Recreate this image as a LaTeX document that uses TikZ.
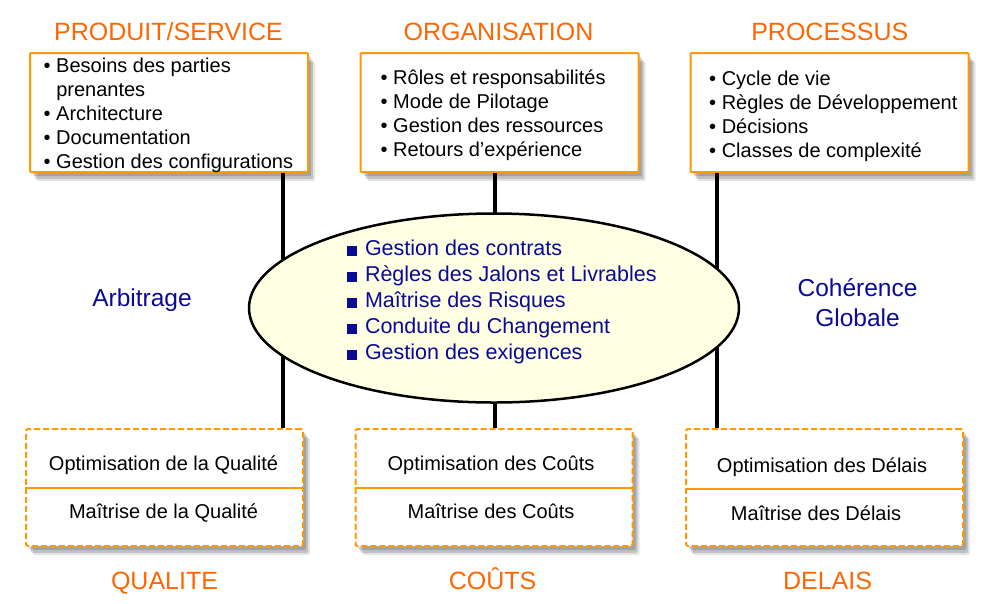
\documentclass[tikz,border=0pt]{standalone}
\usepackage{fontspec}
\setmainfont{Liberation Sans}
\usetikzlibrary{positioning,shapes.geometric,shadows}
\definecolor{titleorange}{RGB}{255,102,0}
\definecolor{boxorange}{RGB}{255,153,0}
\definecolor{textblue}{RGB}{10,10,150}
\definecolor{ellfill}{RGB}{255,255,228}
\newcommand{\sqbul}{\rule{0.46em}{0.46em}\hspace{0.36em}}

\begin{document}
\begin{tikzpicture}[x=1pt,y=-1pt,
    title/.style={text=titleorange,font=\fontsize{25}{30}\selectfont,anchor=base,inner sep=0pt},
    shad/.style={drop shadow={shadow xshift=3pt,shadow yshift=-4pt,opacity=.16,fill=black},
                 drop shadow={shadow xshift=5pt,shadow yshift=-7pt,opacity=.16,fill=black},
                 drop shadow={shadow xshift=7pt,shadow yshift=-9pt,opacity=.1,fill=black}},
    topbox/.style={draw=boxorange,line width=2pt,fill=white,shad,rounded corners=1pt,
                   minimum width=278pt,minimum height=119pt},
    toptxt/.style={anchor=west,align=left,inner sep=0pt,font=\fontsize{20}{24}\selectfont},
    botbox/.style={draw=boxorange,line width=2pt,dash pattern=on 6pt off 3pt,fill=white,shad,
                   rounded corners=2pt,minimum width=277pt,minimum height=117pt},
    boxtxt/.style={anchor=base,inner sep=0pt,font=\fontsize{20}{24}\selectfont},
    divline/.style={draw=boxorange,line width=2.5pt},
    spine/.style={line width=4pt},
    ell/.style={ellipse,draw,line width=2.5pt,fill=ellfill,minimum width=490pt,minimum height=189pt},
    side/.style={text=textblue,font=\fontsize{24.5}{29.5}\selectfont,align=center,inner sep=0pt}]
    \useasboundingbox (0,0) rectangle (1000,603);

    % Titles
    \node[title] (prodt) at (168.5,40) {PRODUIT/SERVICE};
    \node[title] (orgt) at (498.5,40) {ORGANISATION};
    \node[title] (proct) at (829.8,40) {PROCESSUS};
    \node[title] (qualt) at (164.5,589) {QUALITE};
    \node[title] (coutt) at (492.5,589) {COÛTS};
    \node[title] (delt) at (827.5,589.5) {DELAIS};

    % Top boxes
    \node[topbox] (prod) at (169,112.5) {};
    \node[topbox] (org) at (499.5,112.5) {};
    \node[topbox] (proc) at (829.5,112.5) {};
    \node[toptxt] (prodtxt) at (43.5,115.5)
        {• Besoins des parties\\\phantom{• }prenantes\\• Architecture\\• Documentation\\• Gestion des configurations};
    \node[toptxt] (orgtxt) at (380.5,115.5)
        {• Rôles et responsabilités\\• Mode de Pilotage\\• Gestion des ressources\\• Retours d’expérience};
    \node[toptxt] (proctxt) at (709,116.5)
        {• Cycle de vie\\• Règles de Développement\\• Décisions\\• Classes de complexité};

    % Bottom boxes
    \node[botbox] (qual) at (164.5,487.5) {};
    \node[botbox] (cout) at (494,487.5) {};
    \node[botbox] (del) at (824.5,487.5) {};
    \foreach \b/\y in {qual/488, cout/488, del/489}
        \draw[divline] (\b.west |- 0,\y) -- (\b.east |- 0,\y);
    \node[boxtxt] (qualopt) at (163.5,470) {Optimisation de la Qualité};
    \node[boxtxt] (qualmai) at (163.5,518.3) {Maîtrise de la Qualité};
    \node[boxtxt] (coutopt) at (491,470.7) {Optimisation des Coûts};
    \node[boxtxt] (coutmai) at (491,518.3) {Maîtrise des Coûts};
    \node[boxtxt] (delopt) at (822,472.7) {Optimisation des Délais};
    \node[boxtxt] (delmai) at (816,520) {Maîtrise des Délais};

    % Spines
    \coordinate (sq) at (283,0);
    \coordinate (sc) at (495,0);
    \coordinate (sd) at (717,0);
    \draw[spine] (prod.south -| sq) -- (qual.north -| sq);
    \draw[spine] (org.south -| sc) -- (cout.north -| sc);
    \draw[spine] (proc.south -| sd) -- (del.north -| sd);

    % Core
    \node[ell] (core) at (494,308) {};
    \node[text=textblue,align=left,inner sep=0pt,font=\fontsize{21.5}{26}\selectfont] (coretxt) at (502,302)
        {\sqbul Gestion des contrats\\\sqbul Règles des Jalons et Livrables\\\sqbul Maîtrise des Risques\\\sqbul Conduite du Changement\\\sqbul Gestion des exigences};

    % Side labels
    \node[side,anchor=base] (arb) at (142,306) {Arbitrage};
    \node[side] (coh) at (857.5,302.5) {Cohérence\\Globale};
\end{tikzpicture}
\end{document}
